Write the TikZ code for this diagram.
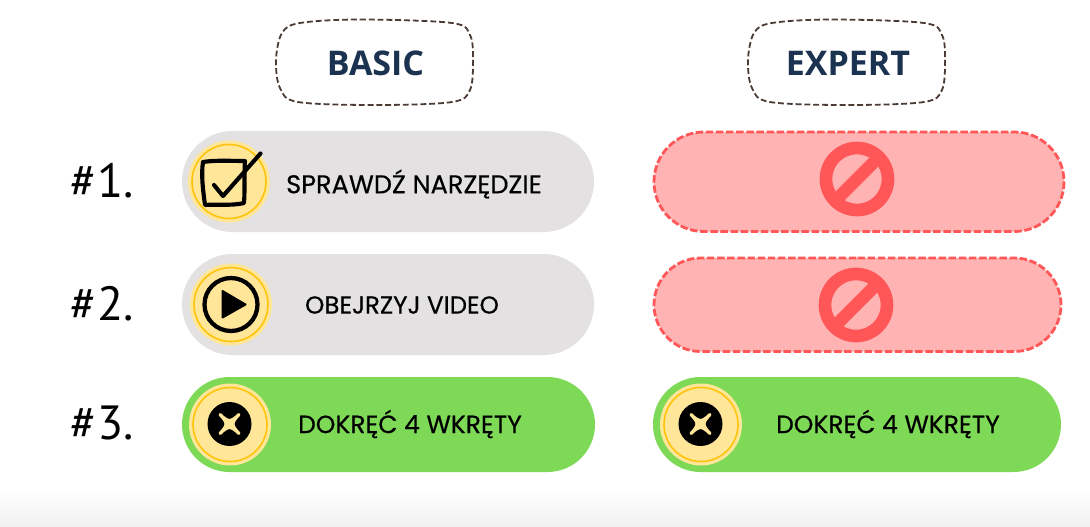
\documentclass[tikz,border=0pt]{standalone}
\usepackage{fontspec}
\usetikzlibrary{shapes.misc}
\newfontfamily\labfont[FakeBold=0.45]{Poppins}
\newfontfamily\headfont{Open Sans}
\newfontfamily\numfont[LetterSpace=1]{PT Sans}
\definecolor{pillgrey}{HTML}{E3E1E2}
\definecolor{pillgreen}{HTML}{7ED957}
\definecolor{pillpink}{HTML}{FFB3B3}
\definecolor{pillred}{HTML}{FF5757}
\definecolor{cream}{HTML}{FFE699}
\definecolor{ringy}{HTML}{FFC30B}
\definecolor{headblue}{HTML}{1B3350}
\definecolor{dashbrown}{HTML}{4A3C34}
\definecolor{floorgrey}{HTML}{F1F1F1}
\tikzset{
  x=0.75pt,y=-0.75pt,
  pillbox/.style={rounded rectangle,rounded rectangle arc length=180,inner sep=0pt,anchor=center},
  pilltext/.style={text=black,inner sep=0pt},
  headtext/.style={font=\headfont\bfseries\fontsize{25.5}{30}\selectfont,text=headblue,inner sep=0pt},
  numtext/.style={text=black,inner sep=0pt},
  blobline/.style={draw=dashbrown,line width=1.35pt,dash pattern=on 4.4pt off 2.2pt},
  noline/.style={draw=pillred,line width=9.5pt},
  inkline/.style={draw=black,line cap=round,line join=round},
  nopill/.style={draw=pillred,line width=2.1pt,dash pattern=on 5.6pt off 2pt}
}
\newcommand{\pillat}[7]{% name,x,y,w,h,fill,extra
  \node[pillbox,minimum width=#4*0.75pt,minimum height=#5*0.75pt,fill=#6,#7] (#1) at ({#2+#4/2},{#3+#5/2}) {};}
\newcommand{\coin}[3]{% name,x,y
  \fill[cream] (#2,#3) circle [radius=41];
  \draw[ringy,line width=1.2pt] (#2,#3) circle [radius=37];
  \coordinate (#1) at (#2,#3);}
\newcommand{\screw}[2]{%
  \fill[black] (#1,#2) circle [radius=22];
  \fill[cream,draw=cream,line width=2.4pt,line join=round,shift={(#1,#2)}]
    (-9.5,-9.5) .. controls (-5,-5) and (-2,-3.5) .. (0,-3.5)
    .. controls (2,-3.5) and (5,-5) .. (9.5,-9.5)
    .. controls (5,-5) and (3.5,-2) .. (3.5,0)
    .. controls (3.5,2) and (5,5) .. (9.5,9.5)
    .. controls (5,5) and (2,3.5) .. (0,3.5)
    .. controls (-2,3.5) and (-5,5) .. (-9.5,9.5)
    .. controls (-5,5) and (-3.5,2) .. (-3.5,0)
    .. controls (-3.5,-2) and (-5,-5) .. (-9.5,-9.5) -- cycle;}
\newcommand{\nosign}[2]{%
  \draw[noline] (#1,#2) circle [radius=31];
  \draw[noline] (#1-22,#2+22) -- (#1+22,#2-22);}
\newcommand{\blob}[1]{%
  \draw[blobline,shift={(#1,0)}] plot[smooth cycle,tension=0.55] coordinates
    {(300,23) (360,19.5) (452,23) (470,35) (473,60) (470,90) (452,102) (377,105) (298,102) (280,88) (276,60) (282,33)};}
\newcommand{\numlabel}[1]{\numfont\fontsize{36}{40}\selectfont\##1.}
\begin{document}
\begin{tikzpicture}
\useasboundingbox (0,0) rectangle (1090,526);
\fill[white] (0,0) rectangle (1090,526);
\shade[top color=white,bottom color=floorgrey] (0,488) rectangle (1090,526);
% headers
\blob{0}
\blob{472}
\node[headtext] (basic) at (375.5,63) {BASIC};
\node[headtext] (expert) at (848,63) {EXPERT};
% row numbers
\node[numtext] (n1) at (102.5,181) {\numlabel{1}};
\node[numtext] (n2) at (102.5,304) {\numlabel{2}};
\node[numtext] (n3) at (102.5,423) {\numlabel{3}};
% pills
\pillat{b1}{182}{131}{412}{101}{pillgrey}{}
\pillat{b2}{182}{254}{412}{101}{pillgrey}{}
\pillat{b3}{182}{377}{413}{95}{pillgreen}{}
\pillat{e1}{654}{132}{410}{99.5}{pillpink}{nopill}
\pillat{e2}{654}{258}{407}{93.5}{pillpink}{nopill}
\pillat{e3}{653}{377}{408}{95}{pillgreen}{}
% coins
\coin{c1}{229}{181.5}
\coin{c2}{231}{304.5}
\coin{c3}{230}{424.5}
\coin{c4}{701}{424.5}
% checkbox icon
\draw[inkline,line width=3.1pt] (203,162) .. controls (215,160) and (232,161) .. (245,161)
  .. controls (244,175) and (245,190) .. (244,203)
  .. controls (232,206) and (216,204) .. (205,205)
  .. controls (203,190) and (201,175) .. (203,162);
\draw[inkline,line width=3.1pt] (214,185) -- (223,196) -- (260.5,153.5);
% play icon
\draw[black,line width=3.2pt] (c2) circle [radius=26.5];
\fill[black,draw=black,line width=1.5pt,line join=round] (222.5,291) -- (245.5,304.5) -- (222.5,317.5) -- cycle;
% screws
\screw{229.5}{424}
\screw{700.5}{424}
% prohibited signs
\nosign{857}{179}
\nosign{856}{305}
% pill labels
\node[pilltext,font=\labfont\fontsize{19.2}{22}\selectfont] (t1) at (414,184) {SPRAWDŹ NARZĘDZIE};
\node[pilltext,font=\labfont\fontsize{18.4}{22}\selectfont] (t2) at (402,305) {OBEJRZYJ VIDEO};
\node[pilltext,font=\labfont\fontsize{18.7}{22}\selectfont] (t3) at (410,424) {DOKRĘĆ 4 WKRĘTY};
\node[pilltext,font=\labfont\fontsize{18.7}{22}\selectfont] (t4) at (888,424) {DOKRĘĆ 4 WKRĘTY};
\end{tikzpicture}
\end{document}
